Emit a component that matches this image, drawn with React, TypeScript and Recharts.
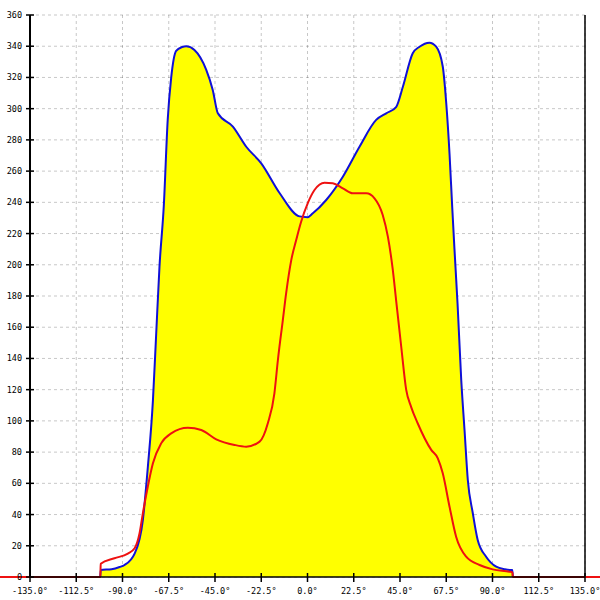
import {
  ComposedChart,
  Area,
  Line,
  XAxis,
  YAxis,
  CartesianGrid,
  ReferenceLine,
} from 'recharts';

// angle (deg) / value pairs
const upperAngle = [
  -100.8, -100.6, -95.3, -91.4, -89, -84.1, -80.1, -77.7, -75.2, -73.6, -72, -69.9, -68, -66.3,
  -63.9, -61, -59, -55, -49.3, -46.1, -43.6, -36.3, -29.8, -22.5, -13.6, -3.9, 0, 2.6, 9.1,
  17.2, 25.3, 33.4, 38.3, 43.1, 46.4, 51.2, 54.5, 59.3, 62.6, 65.8, 67.5, 69.1, 70.4, 71.5,
  73, 74.8, 76.4, 78, 80.4, 82.8, 86.9, 91.8, 96, 99.1, 99.7, 99.9,
];
const upperValue = [
  0, 4.5, 5, 6.4, 7.7, 15, 36.5, 70, 113, 156, 199, 238, 293, 320,
  337, 339.5, 340, 337.6, 325, 312, 297, 288.5, 275.6, 265, 246, 231, 230.5, 233, 241.5,
  256.4, 275.6, 292.8, 297, 301, 314, 335.5, 339.7, 342.3, 339.7, 327, 303.5, 271, 237, 210,
  175, 126, 94, 62, 41, 23.7, 13, 6.6, 5, 4.5, 4.5, 0,
];

const lowerAngle = [
  -135, -100.8, -100.6, -93.9, -87.4, -84.1, -81.7, -80.1, -77.7, -75.2, -71.2, -66.3, -58.2,
  -51.7, -44.4, -35.5, -29.8, -23.3, -19.3, -16.1, -14.4, -12, -10.4, -7.9, -5.5, -3.1, 0.1,
  3.4, 8.3, 12.3, 17.2, 22, 28.6, 32.6, 36.6, 39.1, 41.5, 43.1, 45.6, 48, 50.4, 53.6, 60.2,
  63.4, 65.8, 69.1, 72.3, 77.2, 83.7, 90.1, 98.2, 99.7, 99.9, 135,
];
const lowerValue = [
  0, 0, 8.5, 12, 15, 18.4, 28, 40.8, 57.8, 72.8, 85.6, 92, 95.6,
  94.2, 88.2, 84.6, 83.5, 86.7, 98.5, 117.7, 139, 164.6, 181.7, 203, 215.9, 227.6, 239.4,
  247.9, 252.6, 252.2, 249, 245.8, 245.8, 242.6, 231.9, 218, 196.7, 177.4, 147.5, 120, 109, 98.5, 81.4,
  76, 66.4, 45, 25.8, 13, 7.7, 4.9, 3.4, 3, 0, 0,
];

const xTicks = [-135, -112.5, -90, -67.5, -45, -22.5, 0, 22.5, 45, 67.5, 90, 112.5, 135];
const yTicks = [0, 20, 40, 60, 80, 100, 120, 140, 160, 180, 200, 220, 240, 260, 280, 300, 320, 340, 360];

const upperData = upperAngle.map((a, i) => ({ a, v: upperValue[i] }));
const lowerData = lowerAngle.map((a, i) => ({ a, v: lowerValue[i] }));

const FONT = { fontFamily: '"DejaVu Sans Mono", monospace', fontSize: 8.5, fill: '#000' };

function XTick(props: any) {
  const { x, y, payload } = props;
  return (
    <g>
      <line x1={x} x2={x} y1={y - 4} y2={y + 5} stroke="#000" strokeWidth={1.5} />
      <text x={x} y={y + 17} textAnchor="middle" {...FONT}>
        {`${Number(payload.value).toFixed(1)}°`}
      </text>
    </g>
  );
}

function YTick(props: any) {
  const { x, y, payload } = props;
  return (
    <g>
      <line x1={x - 4} x2={x + 4} y1={y} y2={y} stroke="#000" strokeWidth={1.5} />
      <text x={x - 8} y={y + 3} textAnchor="end" {...FONT}>
        {payload.value}
      </text>
    </g>
  );
}

function BaseExtend(props: any) {
  const { x1, y1, x2 } = props;
  return (
    <g>
      <line x1={0} x2={x1} y1={y1} y2={y1} stroke="#ee1111" strokeWidth={2} />
      <line x1={x2} x2={600} y1={y1} y2={y1} stroke="#ee1111" strokeWidth={2} />
    </g>
  );
}

export default function App() {
  return (
    <div style={{ position: 'absolute', left: 0, top: 0, width: 600, height: 600, background: '#fff' }}>
      <ComposedChart width={600} height={600} margin={{ top: 15, right: 15, bottom: 0, left: 0 }}>
        <XAxis
          dataKey="a"
          type="number"
          domain={[-135, 135]}
          ticks={xTicks}
          interval={0}
          height={23}
          tickSize={0}
          tickMargin={0}
          tickLine={false}
          axisLine={{ stroke: '#000', strokeWidth: 1.5 }}
          tick={<XTick />}
        />
        <YAxis
          type="number"
          domain={[0, 360]}
          ticks={yTicks}
          interval={0}
          width={30}
          tickSize={0}
          tickMargin={0}
          tickLine={false}
          axisLine={{ stroke: '#000', strokeWidth: 2 }}
          tick={<YTick />}
        />
        <Area
          data={upperData}
          dataKey="v"
          type="monotone"
          fill="#ffff00"
          fillOpacity={1}
          stroke="#1010d8"
          strokeWidth={2}
          dot={false}
          activeDot={false}
          isAnimationActive={false}
        />
        <CartesianGrid stroke="rgba(0,0,0,0.22)" strokeDasharray="3 3" />
        <ReferenceLine x={135} stroke="#000" strokeWidth={1.5} />
        <ReferenceLine y={0} ifOverflow="visible" shape={<BaseExtend />} />
        <Line
          data={lowerData}
          dataKey="v"
          type="monotone"
          stroke="#ee1111"
          strokeWidth={2}
          dot={false}
          activeDot={false}
          isAnimationActive={false}
        />
      </ComposedChart>
    </div>
  );
}
